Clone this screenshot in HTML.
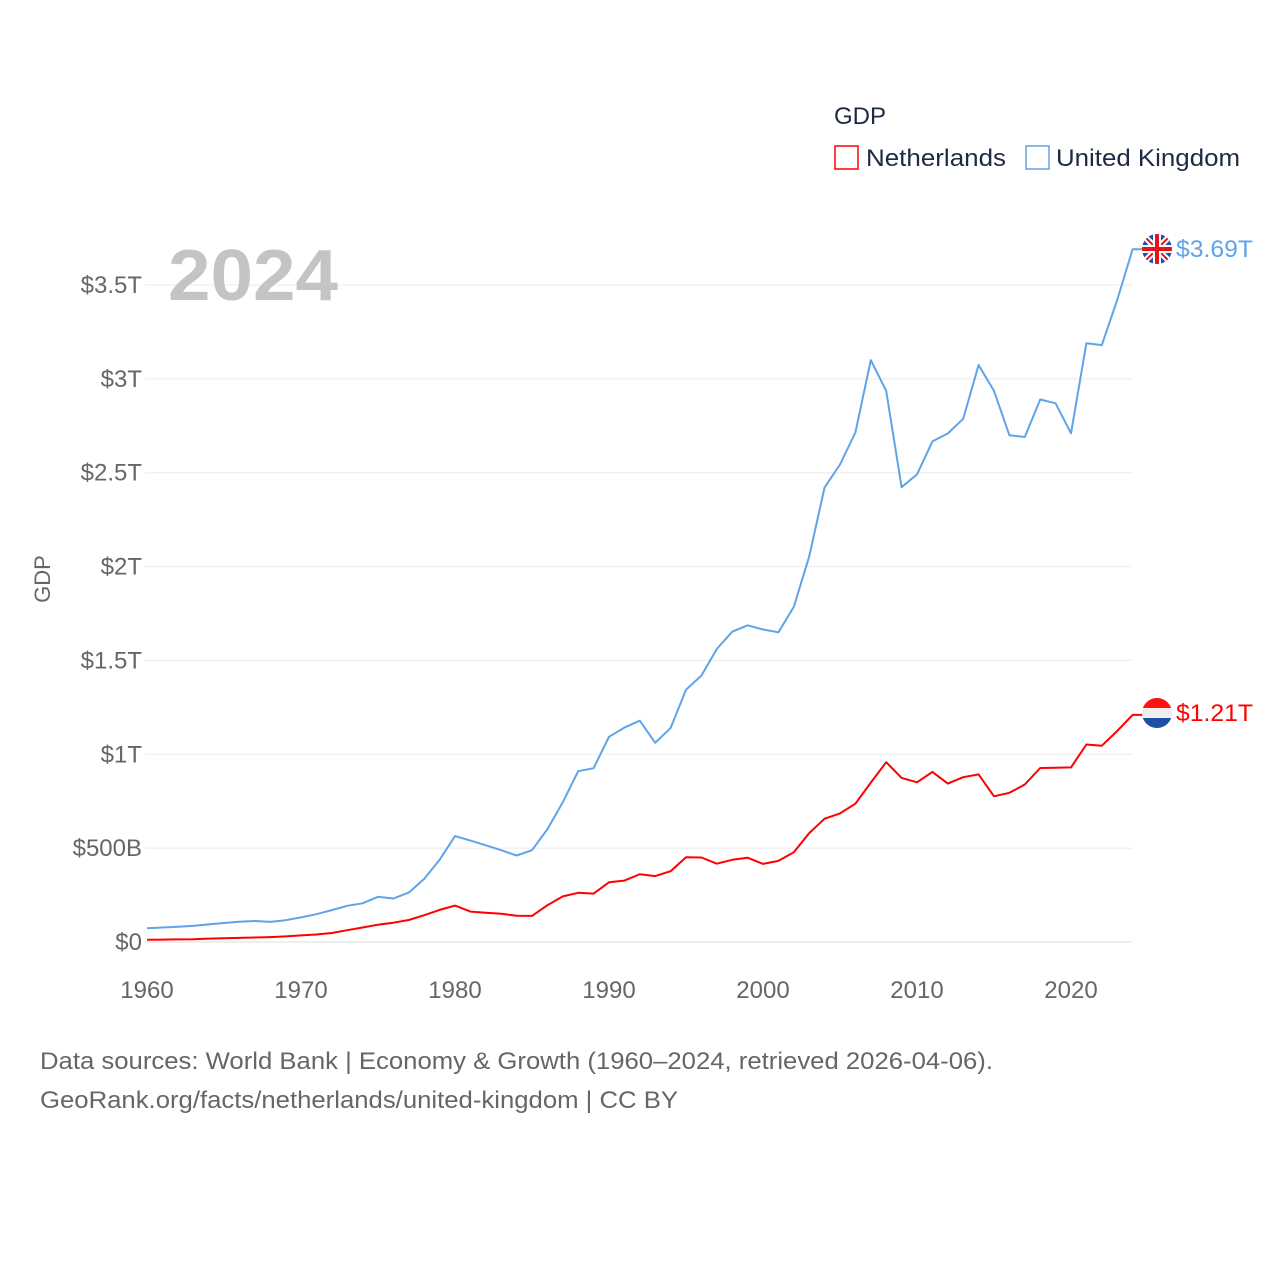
<!DOCTYPE html>
<html><head><meta charset="utf-8">
<style>
body{margin:0;background:#fff;width:1280px;height:1280px;overflow:hidden;font-family:"Liberation Sans",sans-serif;}
svg text{font-family:"Liberation Sans",sans-serif;}
</style></head>
<body>
<svg id="chart" width="1280" height="1280" xmlns="http://www.w3.org/2000/svg">
<text x="834" y="124" font-size="24" fill="#1e2a44">GDP</text>
<rect x="835" y="146" width="23" height="23" fill="none" stroke="#ff0000" stroke-width="1.5"/>
<text x="866" y="166" font-size="24" fill="#1e2a44" textLength="140" lengthAdjust="spacingAndGlyphs">Netherlands</text>
<rect x="1026" y="146" width="23" height="23" fill="none" stroke="#5fa4e8" stroke-width="1.5"/>
<text x="1056" y="166" font-size="24" fill="#1e2a44" textLength="184" lengthAdjust="spacingAndGlyphs">United Kingdom</text>
<g id="grid"></g>
<text x="168" y="300" font-size="72" font-weight="bold" fill="#c4c4c4" textLength="170" lengthAdjust="spacingAndGlyphs">2024</text>
<text transform="translate(50,579) rotate(-90)" text-anchor="middle" font-size="22" fill="#666">GDP</text>
<g id="series"></g>
<g>
<clipPath id="cuk"><circle cx="1157" cy="249" r="15"/></clipPath>
<g clip-path="url(#cuk)">
<rect x="1142" y="234" width="30" height="30" fill="#1f4fa8"/>
<path d="M1142 234L1172 264M1172 234L1142 264" stroke="#fff" stroke-width="6"/>
<path d="M1142 234L1172 264M1172 234L1142 264" stroke="#e4141b" stroke-width="2"/>
<rect x="1142" y="245" width="30" height="8" fill="#fff"/><rect x="1153" y="234" width="8" height="30" fill="#fff"/>
<rect x="1142" y="247" width="30" height="4" fill="#e4141b"/><rect x="1155" y="234" width="4" height="30" fill="#e4141b"/>
</g></g>
<g>
<clipPath id="cnl"><circle cx="1157" cy="713" r="15"/></clipPath>
<g clip-path="url(#cnl)">
<rect x="1142" y="698" width="30" height="10" fill="#f11"/>
<rect x="1142" y="708" width="30" height="10" fill="#eee"/>
<rect x="1142" y="718" width="30" height="10" fill="#1d4fa5"/>
</g></g>
<text x="1176" y="257" font-size="24" fill="#5fa4e8" textLength="77" lengthAdjust="spacingAndGlyphs">$3.69T</text>
<text x="1176" y="721" font-size="24" fill="#ff0000" textLength="77" lengthAdjust="spacingAndGlyphs">$1.21T</text>
<text x="40" y="1069" font-size="24" fill="#666" textLength="953" lengthAdjust="spacingAndGlyphs">Data sources: World Bank | Economy &amp; Growth (1960–2024, retrieved 2026-04-06).</text>
<text x="40" y="1108" font-size="24" fill="#666" textLength="638" lengthAdjust="spacingAndGlyphs">GeoRank.org/facts/netherlands/united-kingdom | CC BY</text>
</svg>
<script>
const years=[];for(let y=1960;y<=2024;y++)years.push(y);
const ukGdp=[0.073,0.077,0.081,0.086,0.094,0.101,0.108,0.112,0.107,0.116,0.131,0.148,0.170,0.193,0.206,0.241,0.232,0.263,0.336,0.438,0.564,0.540,0.515,0.489,0.461,0.489,0.601,0.745,0.910,0.926,1.093,1.142,1.179,1.061,1.140,1.344,1.419,1.561,1.653,1.687,1.665,1.650,1.785,2.054,2.422,2.544,2.714,3.100,2.936,2.423,2.491,2.667,2.709,2.787,3.074,2.936,2.700,2.690,2.890,2.870,2.710,3.190,3.180,3.420,3.690];
const nlGdp=[0.012,0.013,0.014,0.015,0.018,0.020,0.022,0.024,0.026,0.030,0.035,0.040,0.048,0.063,0.077,0.092,0.103,0.117,0.143,0.171,0.194,0.162,0.156,0.150,0.140,0.139,0.196,0.243,0.262,0.258,0.318,0.327,0.361,0.351,0.377,0.452,0.450,0.417,0.438,0.449,0.416,0.432,0.478,0.580,0.657,0.685,0.737,0.849,0.958,0.874,0.851,0.906,0.844,0.878,0.893,0.776,0.795,0.839,0.927,0.928,0.930,1.052,1.046,1.124,1.210];
const yTicks=[0,0.5,1,1.5,2,2.5,3,3.5];
const yTickLabels=["$0","$500B","$1T","$1.5T","$2T","$2.5T","$3T","$3.5T"];
const xTicks=[1960,1970,1980,1990,2000,2010,2020];
const NS="http://www.w3.org/2000/svg";
const xs=y=>147+(y-1960)*15.4;
const ys=v=>942-v*187.714;
const grid=document.getElementById('grid');
yTicks.forEach((t,i)=>{
  const l=document.createElementNS(NS,'line');
  l.setAttribute('x1',145);l.setAttribute('x2',1132);l.setAttribute('y1',ys(t));l.setAttribute('y2',ys(t));
  l.setAttribute('stroke',i===0?'#ddd':'#ebebeb');l.setAttribute('stroke-width',1);
  
  
  grid.appendChild(l);
  const tx=document.createElementNS(NS,'text');
  tx.setAttribute('x',142);tx.setAttribute('y',ys(t)+8);tx.setAttribute('text-anchor','end');
  tx.setAttribute('font-size','24');tx.setAttribute('fill','#666');tx.textContent=yTickLabels[i];
  
  
  grid.appendChild(tx);
});
xTicks.forEach(t=>{
  const tx=document.createElementNS(NS,'text');
  tx.setAttribute('x',xs(t));tx.setAttribute('y',998);tx.setAttribute('text-anchor','middle');
  tx.setAttribute('font-size','24');tx.setAttribute('fill','#666');tx.textContent=t;
  
  
  grid.appendChild(tx);
});
const sg=document.getElementById('series');
function line(vals,color,name){
  let d=vals.map((v,i)=>(i?'L':'M')+xs(years[i]).toFixed(1)+' '+ys(v).toFixed(1)).join(' ');
  d+=' L'+(xs(years[years.length-1])+10)+' '+ys(vals[vals.length-1]).toFixed(1);
  const p=document.createElementNS(NS,'path');
  p.setAttribute('d',d);p.setAttribute('fill','none');p.setAttribute('stroke',color);p.setAttribute('stroke-width',2);
  p.setAttribute('stroke-linejoin','round');
  
  
  sg.appendChild(p);
}
line(ukGdp,'#5fa4e8','uk-gdp-line');
line(nlGdp,'#ff0000','netherlands-gdp-line');
</script>
</body></html>
